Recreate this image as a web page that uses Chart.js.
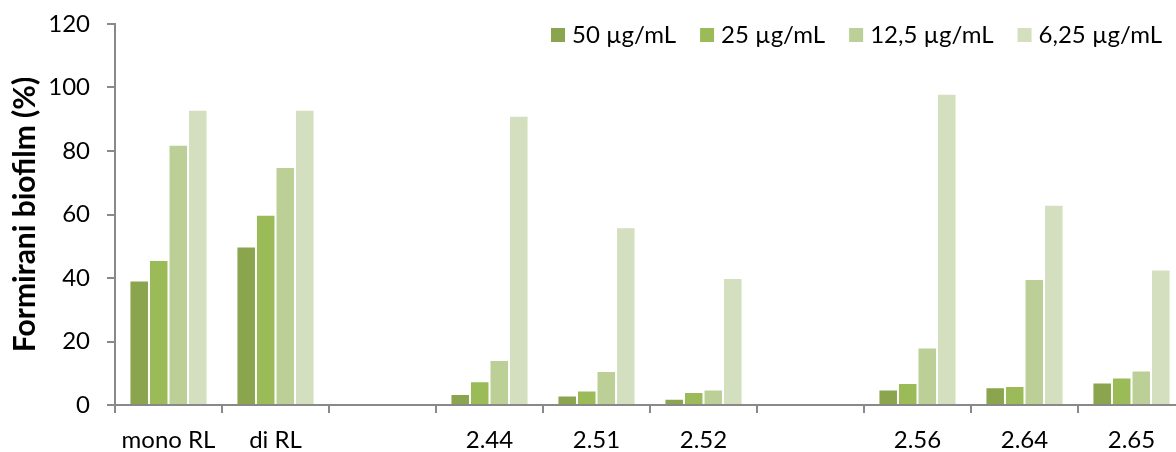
<!DOCTYPE html>
<html>
<head>
<meta charset="utf-8">
<script src="https://cdn.jsdelivr.net/npm/chart.js@4.4.1/dist/chart.umd.min.js"></script>
<style>
  html, body { margin: 0; padding: 0; background: #fff; overflow: hidden; }
  /* a figura original corta a ultima categoria: a caixa passa um pouco da janela */
  #caixa { width: 1185px; height: 452px; }
</style>
</head>
<body>
<div id="caixa"><canvas id="graficoBiofilm"></canvas></div>
<script>
// dados (% de biofilm formado)
const categorias = ["mono RL", "di RL", "", "2.44", "2.51", "2.52", "", "2.56", "2.64", "2.65"];
const rotulos = ["50 µg/mL", "25 µg/mL", "12,5 µg/mL", "6,25 µg/mL"];
const conc50 = [39.2, 49.9, null, 3.5, 3.0, 2.0, null, 4.9, 5.6, 7.1];
const conc25 = [45.7, 59.9, null, 7.5, 4.6, 4.1, null, 6.9, 6.0, 8.7];
const conc12 = [82.0, 75.0, null, 14.2, 10.7, 4.9, null, 18.1, 39.7, 10.9];
const conc6 = [93.0, 93.0, null, 91.1, 56.0, 40.0, null, 98.0, 63.1, 42.7];
const ticksY = [0, 20, 40, 60, 80, 100, 120];

const cores = ["#8aa54e", "#9bbb59", "#bbcf96", "#d3dfbe"];
const series = [conc50, conc25, conc12, conc6];
const corEixo = "#898989";
const fonte = "Lato, 'Open Sans', sans-serif";

// legenda desenhada dentro da area do grafico, alinhada a direita
const legendaTopo = {
  id: "legendaTopo",
  afterDraw(chart) {
    const ctx = chart.ctx;
    ctx.save();
    ctx.font = "24px " + fonte;
    ctx.textBaseline = "middle";
    let x = 1162;
    const y = 35;
    for (let i = chart.data.datasets.length - 1; i >= 0; i--) {
      const ds = chart.data.datasets[i];
      const w = ctx.measureText(ds.label).width;
      x -= w;
      ctx.fillStyle = "#000";
      ctx.fillText(ds.label, x, y);
      x -= 7 + 14;
      ctx.fillStyle = ds.backgroundColor;
      ctx.fillRect(x, y - 7, 14, 14);
      x -= 24;
    }
    ctx.restore();
  }
};

const ctx = document.getElementById("graficoBiofilm");

new Chart(ctx, {
  type: "bar",
  data: {
    labels: categorias,
    datasets: series.map((s, i) => ({
      label: rotulos[i],
      data: s,
      backgroundColor: cores[i],
      borderColor: "rgba(255,255,255,0.55)",
      borderWidth: 1,
      barPercentage: 1,
      categoryPercentage: 0.73
    }))
  },
  options: {
    responsive: true,
    maintainAspectRatio: false,
    animation: false,
    layout: { padding: { top: 24, right: 0, bottom: 0, left: 0 } },
    plugins: {
      legend: { display: false },
      tooltip: { enabled: false }
    },
    scales: {
      x: {
        grid: {
          offset: true,
          drawOnChartArea: false,
          drawTicks: true,
          tickLength: 8,
          color: corEixo,
          lineWidth: 2
        },
        border: { color: corEixo, width: 2 },
        ticks: {
          color: "#000",
          padding: 13,
          maxRotation: 0,
          autoSkip: false,
          font: { family: fonte, size: 24 }
        },
        afterFit(scale) { scale.height = 47; }
      },
      y: {
        min: 0,
        max: 120,
        afterBuildTicks(scale) { scale.ticks = ticksY.map(v => ({ value: v })); },
        grid: {
          drawOnChartArea: false,
          drawTicks: true,
          tickLength: 8,
          color: corEixo,
          lineWidth: 2
        },
        border: { color: corEixo, width: 2 },
        ticks: {
          color: "#000",
          padding: 17,
          font: { family: fonte, size: 24 }
        },
        title: {
          display: true,
          text: "Formirani biofilm (%)",
          color: "#000",
          padding: { top: 7, bottom: 0 },
          font: { family: fonte, size: 30, weight: "bold" }
        },
        afterFit(scale) {
          scale.width = 115;
          scale.paddingTop = 0;
          scale.paddingBottom = 0;
        }
      }
    }
  },
  plugins: [legendaTopo]
});
</script>
</body>
</html>
